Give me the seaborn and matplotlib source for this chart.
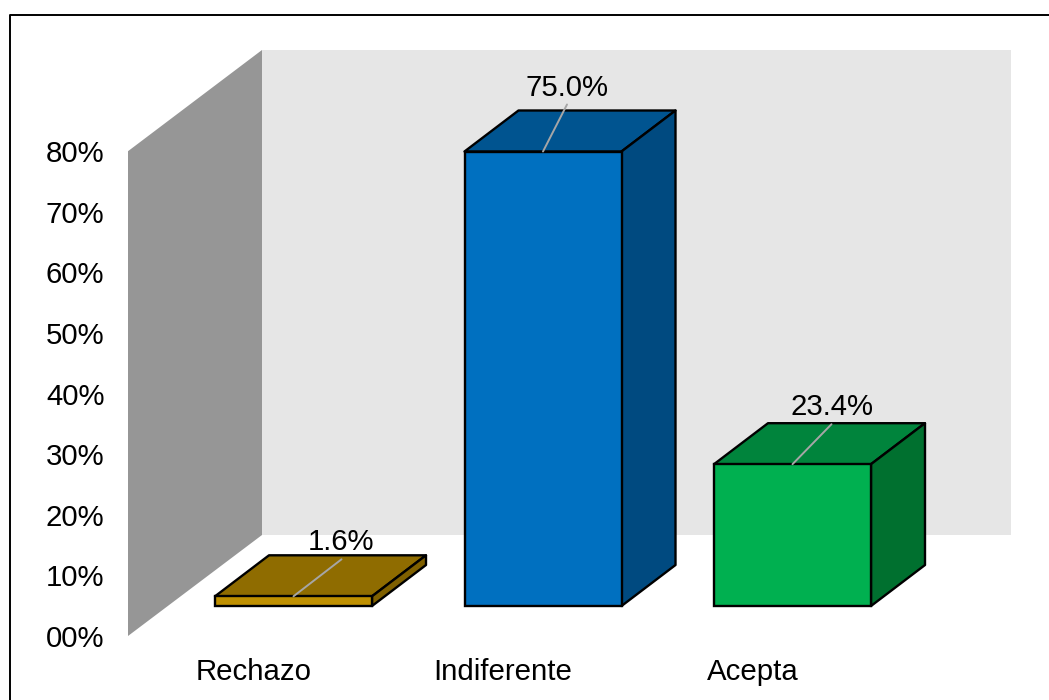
import pandas as pd
import matplotlib.pyplot as plt
from matplotlib.lines import Line2D
from matplotlib.patches import Polygon
import seaborn as sns

categories = ["Rechazo", "Indiferente", "Acepta"]
values = [1.6, 75.0, 23.4]
value_labels = ["1.6%", "75.0%", "23.4%"]
tick_values = [0, 10, 20, 30, 40, 50, 60, 70, 80]
tick_labels = ["00%", "10%", "20%", "30%", "40%", "50%", "60%", "70%", "80%"]

front_colors = ["#BF9000", "#0070C0", "#00B050"]
top_colors = ["#8F6C00", "#005490", "#00843C"]
side_colors = ["#7F6000", "#004A80", "#00702F"]
# dove finisce l'etichetta rispetto al centro del lato alto della barra (pixel)
label_offsets = [(48, 37), (24, 47), (39, 40)]

W, H = 1049, 700
# scala del grafico in pixel
px_cat = 249.5
px_pct = 6.06
# profondita della scatola e posizione delle barre dentro di essa (pixel)
box_dx, box_dy = 134, 101
bar_dx, bar_dy = 54, 41
front_dx, front_dy = 40, 30
FONT_SIZE = 21.2

sns.set_theme(style="white", font="Liberation Sans")
fig = plt.figure(figsize=(W / 100, H / 100), dpi=100)
ax = fig.add_axes([128 / W, 1 - 636 / H, (1011 - 128) / W, (636 - 50) / H])

df = pd.DataFrame({"categoria": categories, "valore": values})
sns.barplot(data=df, x="categoria", y="valore", hue="categoria", palette=front_colors,
            saturation=1, width=157 / px_cat, edgecolor="black", linewidth=1.7,
            legend=False, ax=ax, zorder=3)

xmin = (128 - 293.5) / px_cat
xmax = (1011 - 293.5) / px_cat
ymin = -front_dy / px_pct
ymax = (606 - 50) / px_pct
ax.set_xlim(xmin, xmax)
ax.set_ylim(ymin, ymax)

# pareti
back_x = xmin + box_dx / px_cat
floor_y = ymin + box_dy / px_pct
wall_top = ymin + 80
ax.add_patch(Polygon([(back_x, floor_y), (xmax, floor_y), (xmax, ymax), (back_x, ymax)],
                     facecolor="#E6E6E6", edgecolor="none", zorder=0))
ax.add_patch(Polygon([(xmin, ymin), (back_x, floor_y), (back_x, ymax), (xmin, wall_top)],
                     facecolor="#969696", edgecolor="none", zorder=1))

# facce superiori e laterali
dx = bar_dx / px_cat
dy = bar_dy / px_pct
for i, bar in enumerate(ax.patches[:len(categories)]):
    x0 = bar.get_x()
    x1 = x0 + bar.get_width()
    top = bar.get_height()
    ax.add_patch(Polygon([(x0, top), (x1, top), (x1 + dx, top + dy), (x0 + dx, top + dy)],
                         facecolor=top_colors[i], edgecolor="black", linewidth=1.7,
                         joinstyle="round", zorder=2))
    ax.add_patch(Polygon([(x1, 0), (x1 + dx, dy), (x1 + dx, top + dy), (x1, top)],
                         facecolor=side_colors[i], edgecolor="black", linewidth=1.7,
                         joinstyle="round", zorder=2))
    # etichetta con linea guida
    cx = x0 + bar.get_width() / 2
    lx = cx + label_offsets[i][0] / px_cat
    ly = top + label_offsets[i][1] / px_pct
    ax.plot([cx, lx], [top, ly], color="#A6A6A6", linewidth=1.4, zorder=4)
    ax.text(lx, ly + 3 / px_pct, value_labels[i], ha="center", va="bottom",
            fontsize=FONT_SIZE, color="black", zorder=5)

ax.set_yticks([v + ymin for v in tick_values], tick_labels)
ax.set_xticks([i - front_dx / px_cat for i in range(len(categories))], categories)
ax.tick_params(axis="y", length=0, pad=17, labelsize=FONT_SIZE, labelcolor="black")
ax.tick_params(axis="x", length=0, pad=16, labelsize=FONT_SIZE, labelcolor="black")
ax.set_xlabel("")
ax.set_ylabel("")
ax.patch.set_visible(False)
sns.despine(ax=ax, left=True, bottom=True)

# cornice
fig.add_artist(Line2D([9.5 / W, 9.5 / W, 1], [0, 1 - 15 / H, 1 - 15 / H], color="black", linewidth=1.4))

fig.savefig("out.png", dpi=100)
plt.close(fig)
